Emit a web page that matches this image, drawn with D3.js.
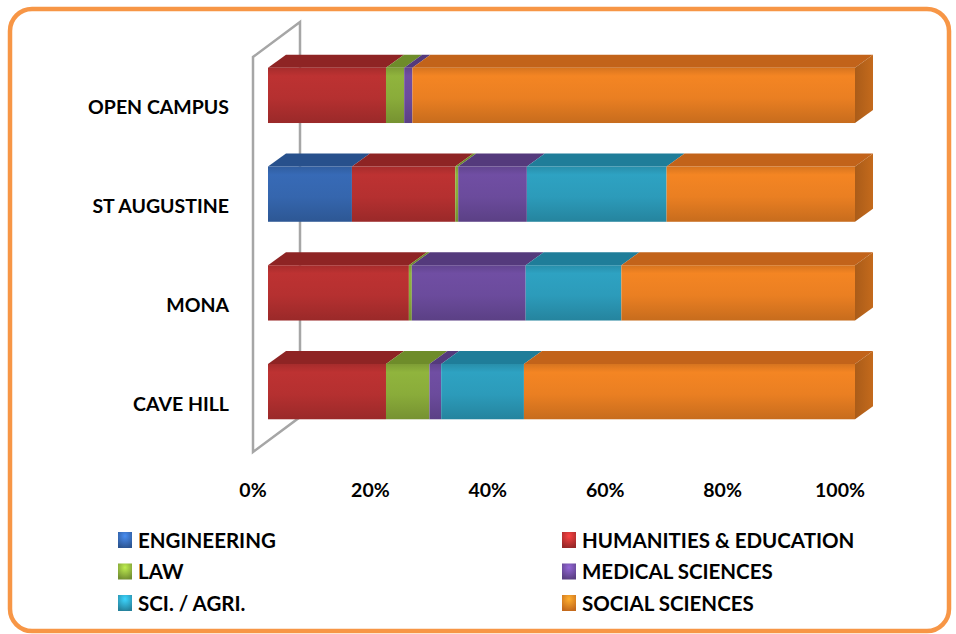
<!DOCTYPE html>
<html><head><meta charset="utf-8">
<script src="https://cdn.jsdelivr.net/npm/d3@7"></script>
<style>body{margin:0;background:#fff}svg{display:block}</style>
</head><body>
<svg id="c" width="956" height="634"></svg>
<script>
const campuses = ["OPEN CAMPUS", "ST AUGUSTINE", "MONA", "CAVE HILL"];
const faculties = ["ENGINEERING", "HUMANITIES & EDUCATION", "LAW", "MEDICAL SCIENCES", "SCI. / AGRI.", "SOCIAL SCIENCES"];
const engineering = [0, 14.3, 0, 0];
const humanities = [20.1, 17.6, 24.0, 20.1];
const law = [3.1, 0.5, 0.5, 7.4];
const medical = [1.4, 11.7, 19.4, 2.0];
const sciAgri = [0, 23.8, 16.3, 14.1];
const social = [75.4, 32.1, 39.8, 56.4];
const xTicks = [0, 20, 40, 60, 80, 100];
const colors = ["#3566AE", "#B53030", "#8AAC3A", "#6B4B9C", "#2C9BBA", "#EA7F22"];
const topColors = ["#27508C", "#8E2424", "#6E8C2A", "#543A7C", "#1F7D99", "#C2631A"];
const series = [engineering, humanities, law, medical, sciAgri, social];

const svg = d3.select("#c");
const font = "Lato, 'Liberation Sans', sans-serif";

// border
svg.append("rect").attr("x", 10).attr("y", 9).attr("width", 939).attr("height", 622)
  .attr("rx", 22).attr("fill", "none").attr("stroke", "#F79646").attr("stroke-width", 4.5);

const x = d3.scaleLinear().domain([0, 100]).range([253, 840]);
const y = d3.scaleBand().domain(campuses).range([57, 452]).paddingInner(0.44).paddingOuter(0.22);
const DX = 47, DY = 35; // full depth of wall
const bOff = [15, 11], bDepth = [18, 13];

// gradients
const defs = svg.append("defs");
colors.forEach((c, i) => {
  const g = defs.append("linearGradient").attr("id", "g" + i).attr("x1", 0).attr("y1", 0).attr("x2", 0).attr("y2", 1);
  const cc = d3.color(c);
  g.append("stop").attr("offset", "0%").attr("stop-color", cc.darker(0.25));
  g.append("stop").attr("offset", "15%").attr("stop-color", cc.brighter(0.12));
  g.append("stop").attr("offset", "55%").attr("stop-color", c);
  g.append("stop").attr("offset", "100%").attr("stop-color", cc.darker(0.45));
  const s = defs.append("linearGradient").attr("id", "s" + i).attr("x1", 0).attr("y1", 0).attr("x2", 1).attr("y2", 0);
  s.append("stop").attr("offset", "0%").attr("stop-color", cc.darker(0.9));
  s.append("stop").attr("offset", "100%").attr("stop-color", cc.darker(0.5));
  const r = defs.append("radialGradient").attr("id", "r" + i).attr("cx", "50%").attr("cy", "25%").attr("r", "75%");
  r.append("stop").attr("offset", "0%").attr("stop-color", cc.brighter(0.9));
  r.append("stop").attr("offset", "100%").attr("stop-color", cc.darker(0.5));
});

// wall
const x0 = x(0), yT = y.range()[0], yB = y.range()[1];
svg.append("path")
  .attr("d", `M${x0},${yB} L${x0},${yT} L${x0 + DX},${yT - DY} L${x0 + DX},${yB - DY} Z`)
  .attr("fill", "none").attr("stroke", "#A6A6A6").attr("stroke-width", 2.5);

// bars
const stack = campuses.map((c, ci) => {
  let acc = 0;
  return series.map((s, si) => { const seg = { ci, si, a: acc, b: acc + s[ci] }; acc += s[ci]; return seg; });
});
const barH = y.bandwidth();
stack.forEach(segs => {
  const g = svg.append("g");
  segs.filter(d => d.b > d.a).forEach(d => {
    const xa = x(d.a) + bOff[0], xb = x(d.b) + bOff[0];
    const yt = y(campuses[d.ci]) - bOff[1];
    g.append("path")
      .attr("d", `M${xa},${yt} L${xa + bDepth[0]},${yt - bDepth[1]} L${xb + bDepth[0]},${yt - bDepth[1]} L${xb},${yt} Z`)
      .attr("fill", topColors[d.si]);
    g.append("rect").attr("x", xa).attr("y", yt).attr("width", xb - xa).attr("height", barH)
      .attr("fill", `url(#g${d.si})`);
  });
  const last = segs.filter(d => d.b > d.a).slice(-1)[0];
  const xe = x(last.b) + bOff[0], yt = y(campuses[last.ci]) - bOff[1];
  g.append("path")
    .attr("d", `M${xe},${yt} L${xe + bDepth[0]},${yt - bDepth[1]} L${xe + bDepth[0]},${yt + barH - bDepth[1]} L${xe},${yt + barH} Z`)
    .attr("fill", `url(#s${last.si})`);
});

// category labels
svg.append("g").selectAll("text").data(campuses).join("text")
  .attr("x", 229).attr("y", d => y(d) + barH / 2 + 8)
  .attr("text-anchor", "end").attr("font-family", font).attr("font-weight", "bold")
  .attr("font-size", 19.5).attr("fill", "#000").text(d => d);

// x ticks
svg.append("g").selectAll("text").data(xTicks).join("text")
  .attr("x", d => x(d)).attr("y", 497).attr("text-anchor", "middle")
  .attr("font-family", font).attr("font-weight", "bold").attr("font-size", 19.5)
  .text(d => d + "%");

// legend
const lg = svg.append("g");
faculties.forEach((f, i) => {
  const col = i % 2, row = Math.floor(i / 2);
  const lx = col === 0 ? 118 : 562, ly = 540 + row * 31.5;
  lg.append("rect").attr("x", lx).attr("y", ly - 8).attr("width", 14).attr("height", 16)
    .attr("fill", `url(#r${i})`);
  lg.append("text").attr("x", lx + 20).attr("y", ly + 7.5).attr("font-family", font)
    .attr("font-weight", "bold").attr("font-size", 20.5).text(f);
});
</script>
</body></html>
